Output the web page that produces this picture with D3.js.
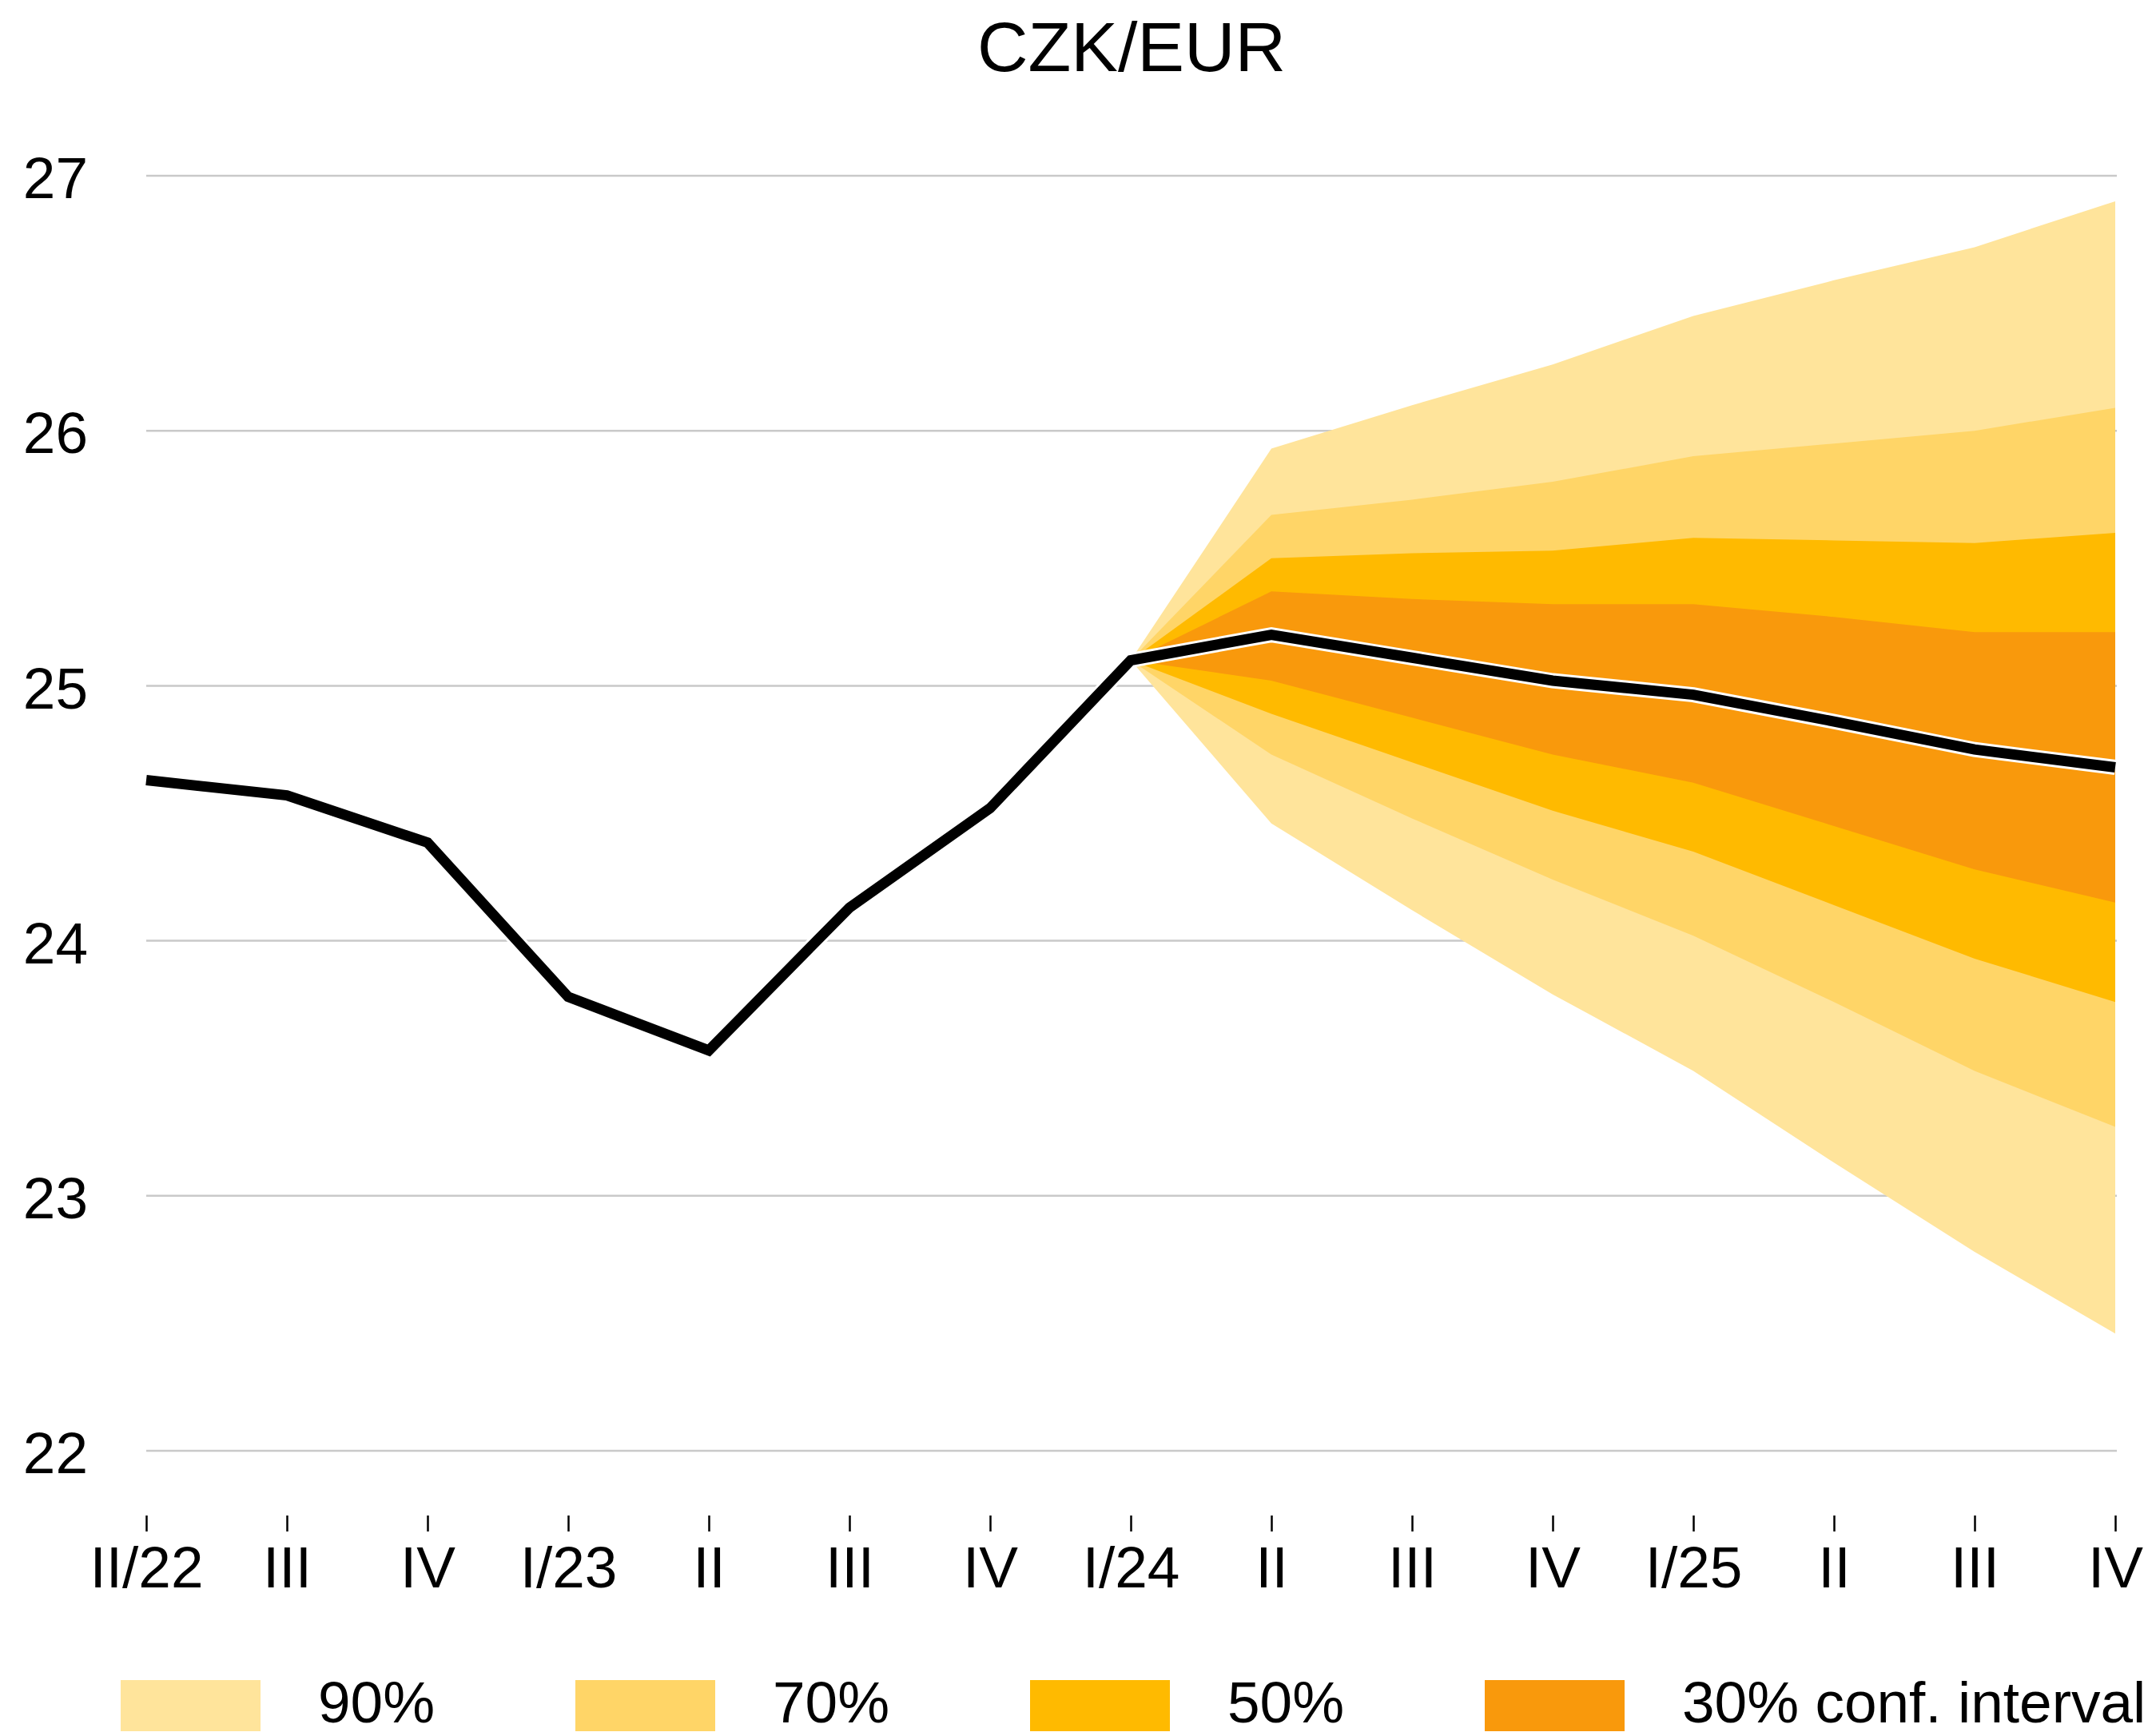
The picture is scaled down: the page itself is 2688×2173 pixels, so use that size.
<!DOCTYPE html>
<html>
<head>
<meta charset="utf-8">
<script src="https://cdn.jsdelivr.net/npm/d3@7"></script>
<style>
	body { margin:0; background:#fff; }
	text { font-family:"Liberation Sans", Arial, sans-serif; fill:#000; }
</style>
</head>
<body>
<script>
// Quarter labels (II/22 .. IV/25)
var quarters = ['II/22','III','IV','I/23','II','III','IV','I/24','II','III','IV','I/25','II','III','IV'];
// CZK/EUR history + forecast
var czkEur = [24.63, 24.57, 24.385, 23.78, 23.57, 24.13, 24.52, 25.10, 25.20, 25.11, 25.02, 24.965, 24.86, 24.75, 24.68];

// Fan starts at I/24 (index 7)
var fanStart = 7;
var upper90 = [25.10, 25.93, 26.10, 26.26, 26.45, 26.59, 26.72, 26.90];
var upper70 = [25.10, 25.67, 25.73, 25.80, 25.90, 25.95, 26.00, 26.09];
var upper50 = [25.10, 25.50, 25.52, 25.53, 25.58, 25.57, 25.56, 25.60];
var upper30 = [25.10, 25.37, 25.34, 25.32, 25.32, 25.27, 25.21, 25.21];
var lower30 = [25.10, 25.02, 24.875, 24.73, 24.62, 24.45, 24.28, 24.15];
var lower50 = [25.10, 24.89, 24.70, 24.51, 24.35, 24.14, 23.93, 23.76];
var lower70 = [25.10, 24.73, 24.48, 24.24, 24.02, 23.76, 23.49, 23.27];
var lower90 = [25.10, 24.46, 24.12, 23.79, 23.49, 23.13, 22.78, 22.46];

var yTicks = [22, 23, 24, 25, 26, 27];
var legendLabels = ['90%', '70%', '50%', '30% conf. interval'];

function chart(){
	var svgW = 2688, svgH = 2173, fs = 73;
	var colors = ['#FFE49B', '#FFD567', '#FFBA00', '#F9990C'];

	var x = d3.scalePoint().domain(d3.range(quarters.length)).range([183, 2647]);
	var y = d3.scaleLinear().domain([22, 27]).range([1816, 220]);

	var svg = d3.select('body').append('svg').attr('width', svgW).attr('height', svgH);

	// title
	svg.append('text').attr('x', 1416).attr('y', 89).attr('text-anchor', 'middle')
		.style('font-size', '88px').text('CZK/EUR');

	// gridlines
	svg.append('g').attr('id', 'g_grid').selectAll('line').data(yTicks).enter().append('line')
		.attr('x1', 183).attr('x2', 2649)
		.attr('y1', function(d){ return y(d);}).attr('y2', function(d){ return y(d);})
		.attr('stroke', '#C9C9C9').attr('stroke-width', 2.5);

	// y labels
	var yAxis = svg.append('g').attr('transform', 'translate(110,0)')
		.call(d3.axisLeft(y).tickValues(yTicks).tickSize(0).tickPadding(0).tickFormat(d3.format('d')));
	yAxis.select('.domain').remove();
	yAxis.selectAll('text').style('font-size', fs + 'px').attr('fill', '#000')
		.style('font-family', '"Liberation Sans", Arial, sans-serif').attr('dy', '0.38em');

	// x axis
	var xAxis = svg.append('g').attr('transform', 'translate(0,1897)')
		.call(d3.axisBottom(x).tickSize(20).tickPadding(18).tickFormat(function(i){ return quarters[i];}));
	xAxis.select('.domain').remove();
	xAxis.selectAll('line').attr('stroke', '#000').attr('stroke-width', 2.5);
	xAxis.selectAll('text').style('font-size', fs + 'px').attr('fill', '#000')
		.style('font-family', '"Liberation Sans", Arial, sans-serif');

	// fan bands
	var bands = [[lower90, upper90], [lower70, upper70], [lower50, upper50], [lower30, upper30]];
	var area = d3.area()
		.x(function(d){ return x(d.i);})
		.y0(function(d){ return y(d.lo);})
		.y1(function(d){ return y(d.hi);});
	svg.append('g').attr('id', 'g_fan').selectAll('path').data(bands).enter().append('path')
		.attr('d', function(b){
			return area(b[0].map(function(v, k){ return {i: fanStart + k, lo: v, hi: b[1][k]}; }));
		})
		.attr('fill', function(b, i){ return colors[i];});

	// central line with white halo
	var line = d3.line().x(function(d, i){ return x(i);}).y(function(d){ return y(d);});
	svg.append('path').attr('d', line(czkEur)).attr('fill', 'none')
		.attr('stroke', '#fff').attr('stroke-width', 19).attr('stroke-linejoin', 'miter');
	svg.append('path').attr('d', line(czkEur)).attr('fill', 'none')
		.attr('stroke', '#000').attr('stroke-width', 13).attr('stroke-linejoin', 'miter');

	// legend
	var lg = svg.append('g').attr('id', 'g_legend').selectAll('g').data(legendLabels).enter().append('g')
		.attr('transform', function(d, i){ return 'translate(' + (151 + i * 569) + ',0)';});
	lg.append('rect').attr('x', 0).attr('y', 2103).attr('width', 175).attr('height', 64)
		.attr('fill', function(d, i){ return colors[i];});
	lg.append('text').attr('x', 247).attr('y', 2156).style('font-size', fs + 'px').text(function(d){ return d;});
}
chart();
</script>
</body>
</html>
